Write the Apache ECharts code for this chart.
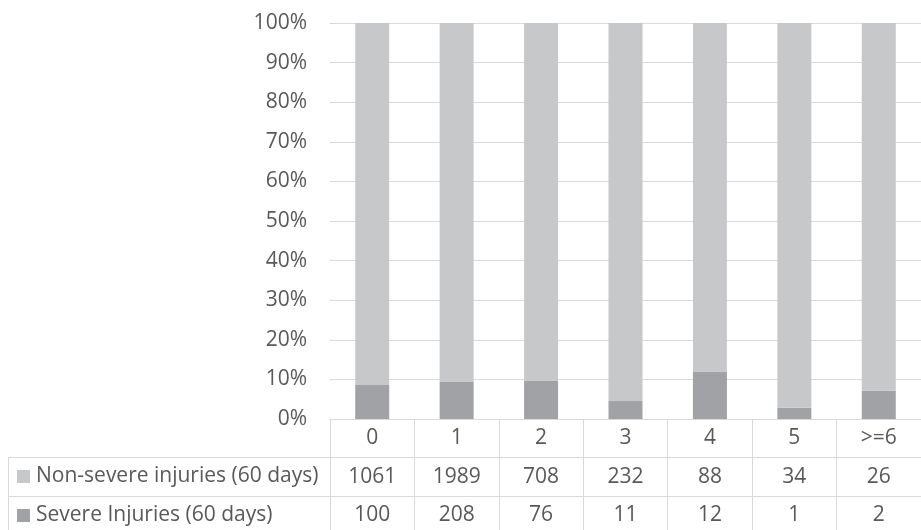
<!DOCTYPE html>
<html>
<head>
<meta charset="utf-8">
<script src="https://cdn.jsdelivr.net/npm/echarts@6/dist/echarts.min.js"></script>
<style>
  html, body { margin: 0; padding: 0; background: #fff; }
  #chart { width: 921px; height: 530px; }
</style>
</head>
<body>
<div id="chart"></div>
<script>
let categories = ['0', '1', '2', '3', '4', '5', '>=6']
let nonSevere = [1061, 1989, 708, 232, 88, 34, 26]
let severe = [100, 208, 76, 11, 12, 1, 2]
let yTicks = [0, 10, 20, 30, 40, 50, 60, 70, 80, 90, 100]

let nameNon = 'Non-severe injuries (60 days)'
let nameSev = 'Severe Injuries (60 days)'

// share of each column, 100% stacked
let sevPct = severe.map((v, i) => v / (v + nonSevere[i]) * 100)
let nonPct = nonSevere.map((v, i) => v / (v + severe[i]) * 100)

let font = 'Open Sans'
let fs = 21
let txt = '#595959'
let line = '#d9d9d9'
let colNon = '#c7c8ca'
let colSev = '#a1a2a5'

var myChart = echarts.init(document.getElementById('chart'), null, { renderer: 'canvas' })

// row headers of the data table (legend keys + series names)
function rowHead(name, color, cy) {
    return {
        type: 'group',
        silent: true,
        children: [
            { type: 'rect', shape: { x: 17, y: cy - 6.5, width: 13, height: 13 }, style: { fill: color } },
            { type: 'text', x: 36, y: cy, style: { text: name, font: fs + 'px "' + font + '"', fill: txt, verticalAlign: 'middle' } }
        ]
    }
}

var option = {
    animation: false,
    textStyle: { fontFamily: font, color: txt },
    grid: { left: 330, top: 23, width: 600, height: 396, containLabel: false },
    xAxis: {
        type: 'category',
        data: categories,
        boundaryGap: true,
        axisLine: { show: true, lineStyle: { color: line, width: 1 } },
        axisTick: { show: true, length: 120, lineStyle: { color: line } },
        axisLabel: {
            margin: 0,
            interval: 0,
            formatter: function (value, index) {
                return `{c|${value}}\n{c|${nonSevere[index]}}\n{c|${severe[index]}}`
            },
            rich: {
                c: { fontFamily: font, fontSize: fs, color: txt, lineHeight: 38.5 }
            }
        }
    },
    yAxis: {
        type: 'value',
        min: yTicks[0],
        max: yTicks[yTicks.length - 1],
        interval: 10,
        axisLine: { show: false },
        axisTick: { show: false },
        splitLine: { lineStyle: { color: line, width: 1 } },
        axisLabel: {
            margin: 23,
            fontFamily: font,
            fontSize: fs,
            color: txt,
            formatter: '{value}%'
        }
    },
    series: [
        {
            name: nameSev,
            type: 'bar',
            stack: 'total',
            barWidth: 34,
            itemStyle: { color: colSev },
            data: sevPct
        },
        {
            name: nameNon,
            type: 'bar',
            stack: 'total',
            barWidth: 34,
            itemStyle: { color: colNon },
            data: nonPct
        }
    ],
    graphic: [
        { type: 'line', silent: true, shape: { x1: 8, y1: 457.5, x2: 921, y2: 457.5 }, style: { stroke: line, lineWidth: 1 } },
        { type: 'line', silent: true, shape: { x1: 8, y1: 496.5, x2: 921, y2: 496.5 }, style: { stroke: line, lineWidth: 1 } },
        { type: 'line', silent: true, shape: { x1: 8.5, y1: 457, x2: 8.5, y2: 530 }, style: { stroke: line, lineWidth: 1 } },
        rowHead(nameNon, colNon, 476.5),
        rowHead(nameSev, colSev, 515.5)
    ]
}

myChart.setOption(option)
</script>
</body>
</html>
